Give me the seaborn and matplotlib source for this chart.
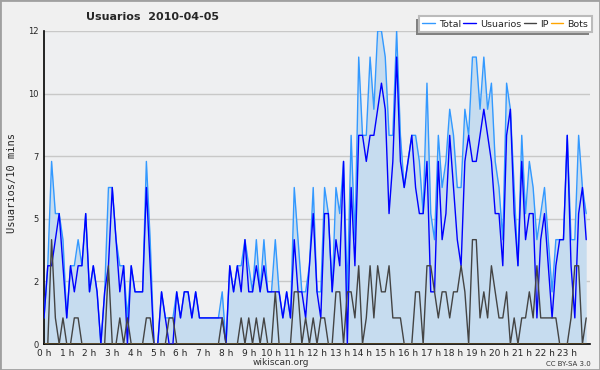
import matplotlib
matplotlib.use("Agg")
import matplotlib.pyplot as plt
import numpy as np
import pandas as pd
import seaborn as sns
from matplotlib.lines import Line2D
from matplotlib.patches import Rectangle

# one value per 10-minute slot, 144 slots over the day
slots = np.arange(144) / 6

usuarios = [1, 3, 3, 4, 5, 3, 1, 3, 2, 3,
            3, 5, 2, 3, 2, 0, 2, 3, 6, 4,
            2, 3, 0, 3, 2, 2, 2, 6, 3, 0,
            0, 2, 1, 0, 0, 2, 1, 2, 2, 1,
            2, 1, 1, 1, 1, 1, 1, 1, 0, 3,
            2, 3, 2, 4, 2, 2, 3, 2, 3, 2,
            2, 2, 2, 1, 2, 1, 4, 2, 2, 1,
            3, 5, 2, 1, 5, 5, 2, 4, 3, 7,
            0, 6, 3, 8, 8, 7, 8, 8, 9, 10,
            9, 5, 7, 11, 7, 6, 7, 8, 6, 5,
            5, 7, 2, 2, 7, 4, 5, 8, 6, 4,
            3, 7, 8, 7, 7, 8, 9, 8, 7, 5,
            5, 3, 8, 9, 5, 3, 7, 4, 5, 5,
            1, 4, 5, 3, 1, 3, 4, 4, 8, 3,
            1, 5, 6, 4]

ip = [0, 0, 4, 1, 0, 1, 0, 0, 1, 1,
      0, 0, 0, 0, 0, 0, 0, 3, 0, 0,
      1, 0, 1, 0, 0, 0, 0, 1, 1, 0,
      0, 0, 0, 1, 1, 0, 0, 0, 0, 0,
      0, 0, 0, 0, 0, 0, 0, 1, 0, 0,
      0, 0, 1, 0, 1, 0, 1, 0, 1, 0,
      0, 2, 0, 0, 0, 0, 2, 2, 0, 1,
      0, 1, 0, 1, 1, 0, 0, 2, 2, 0,
      2, 2, 1, 3, 0, 1, 3, 1, 3, 2,
      2, 3, 1, 1, 1, 0, 0, 0, 2, 2,
      0, 3, 3, 2, 1, 2, 2, 1, 2, 2,
      3, 2, 0, 4, 4, 1, 2, 1, 3, 2,
      1, 1, 2, 0, 1, 0, 1, 1, 2, 1,
      3, 1, 1, 1, 1, 1, 0, 0, 0, 1,
      3, 3, 0, 1]

total = [1, 3, 7, 5, 5, 4, 1, 3, 3, 4,
         3, 5, 2, 3, 2, 0, 2, 6, 6, 4,
         3, 3, 1, 3, 2, 2, 2, 7, 4, 0,
         0, 2, 1, 1, 1, 2, 1, 2, 2, 1,
         2, 1, 1, 1, 1, 1, 1, 2, 0, 3,
         2, 3, 3, 4, 3, 2, 4, 2, 4, 2,
         2, 4, 2, 1, 2, 1, 6, 4, 2, 2,
         3, 6, 2, 2, 6, 5, 2, 6, 5, 7,
         2, 8, 4, 11, 8, 8, 11, 9, 12, 12,
         11, 8, 8, 12, 8, 6, 7, 8, 8, 7,
         5, 10, 5, 4, 8, 6, 7, 9, 8, 6,
         6, 9, 8, 11, 11, 9, 11, 9, 10, 7,
         6, 4, 10, 9, 6, 3, 8, 5, 7, 6,
         4, 5, 6, 4, 2, 4, 4, 4, 8, 4,
         4, 8, 6, 5]

bots = [0] * 144

hour_labels = [f"{h} h" for h in range(24)]
ytick_values = [0, 2.4, 4.8, 7.2, 9.6, 12]
ytick_labels = ["0", "2", "5", "7", "10", "12"]

series = ["Total", "Usuarios", "IP", "Bots"]
colors = {"Total": "#3399ff", "Usuarios": "#0000ff", "IP": "#444444", "Bots": "#ffa500"}

df = pd.DataFrame({"hora": slots, "Total": total, "Usuarios": usuarios,
                   "IP": ip, "Bots": bots})
long = df.melt(id_vars="hora", var_name="serie", value_name="n")

sns.set_style("white")
plt.rcParams["font.family"] = ["DejaVu Sans"]

fig = plt.figure(figsize=(6, 3.7), dpi=100, facecolor="#f0f0f0")
ax = fig.add_axes([44 / 600, 1 - 344 / 370, 546 / 600, 313 / 370])
ax.set_facecolor("#eeeff1")

ax.fill_between(df["hora"], df["Total"], color="#c6dcef", lw=0, zorder=1)
sns.lineplot(data=long, x="hora", y="n", hue="serie", hue_order=series,
             palette=colors, linewidth=1, ax=ax, legend=False, zorder=3)

ax.set_xlim(0, 24)
ax.set_ylim(0, 12)
ax.set_xticks(range(24), hour_labels)
ax.set_xticks(np.arange(0, 24, 1 / 6), minor=True)
ax.set_yticks(ytick_values, ytick_labels)
ax.set_yticks(np.arange(0, 12.01, 0.6), minor=True)
ax.grid(axis="y", which="major", color="#c8c8c8", lw=1, zorder=0)
ax.set_axisbelow(True)
ax.tick_params(which="major", length=3, width=1, direction="out",
               labelsize=6.5, pad=0.8, color="black")
ax.tick_params(which="minor", length=2, width=0.8, color="black")
ax.tick_params(axis="y", labelsize=6)
ax.set_xlabel("")
ax.set_ylabel("")
for side in ["top", "right"]:
    ax.spines[side].set_visible(False)
for side in ["left", "bottom"]:
    ax.spines[side].set_color("black")
    ax.spines[side].set_linewidth(1.2)

fig.text(12 / 600, 187 / 370, "Usuarios/10 mins", rotation=90, ha="center",
         va="center", fontsize=7.5, family="DejaVu Sans Mono")
fig.text(152 / 600, 1 - 17 / 370, "Usuarios  2010-04-05", ha="center",
         va="center", fontsize=8, weight="bold")
fig.text(281 / 600, 1 - 362.5 / 370, "wikiscan.org", ha="center", va="center",
         fontsize=6.5, color="#333333")
fig.text(591 / 600, 1 - 363.5 / 370, "CC BY-SA 3.0", ha="right", va="center",
         fontsize=5, color="#333333")

handles = [Line2D([], [], color=colors[s], lw=1) for s in series]
leg = fig.legend(handles, series, ncol=4, loc="upper right",
                 bbox_to_anchor=(592 / 600, 1 - 16 / 370), frameon=True,
                 fancybox=False, shadow=False, fontsize=6.8, handlelength=1.3,
                 handletextpad=0.45, columnspacing=0.25, borderpad=0.38,
                 borderaxespad=0, edgecolor="#bbbbbb", facecolor="white",
                 framealpha=1)
leg.get_frame().set_linewidth(1.5)
leg.set_zorder(6)

# grey drop shadow below-left of the legend box
fig.canvas.draw()
bb = leg.get_window_extent().transformed(fig.transFigure.inverted())
fig.add_artist(Rectangle((bb.x0 - 3 / 600, bb.y0 - 3 / 370), bb.width, bb.height,
                         transform=fig.transFigure, facecolor="#808080",
                         edgecolor="none", zorder=5))

fig.add_artist(Rectangle((0, 0), 1, 1, transform=fig.transFigure, fill=False,
                         edgecolor="#a0a0a0", lw=2))

fig.savefig("out.png", dpi=100, facecolor=fig.get_facecolor())
